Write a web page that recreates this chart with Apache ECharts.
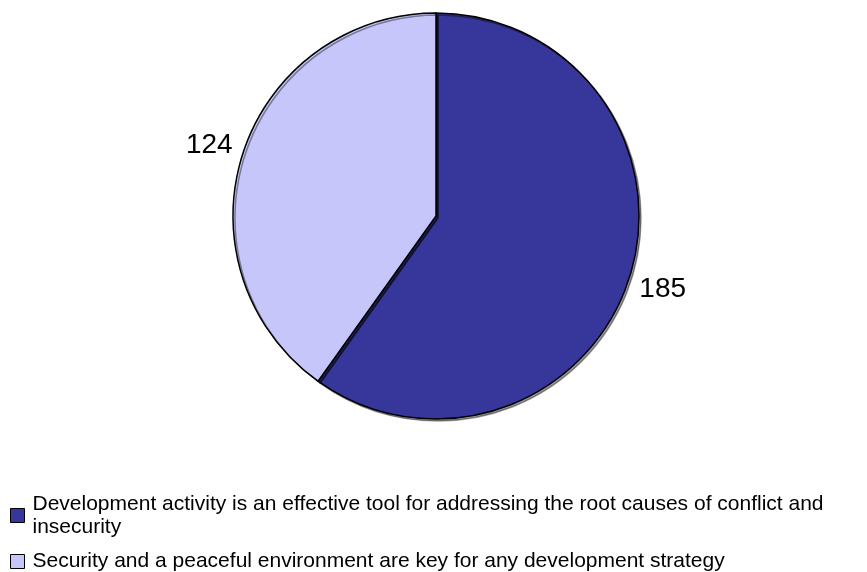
<!DOCTYPE html>
<html>
<head>
<meta charset="utf-8">
<script src="https://cdn.jsdelivr.net/npm/echarts@6/dist/echarts.min.js"></script>
<style>
  html, body { margin: 0; padding: 0; background: #fff; }
  #chart { width: 867px; height: 572px; }
</style>
</head>
<body>
<div id="chart"></div>
<script>
const categories = [
  'Development activity is an effective tool for addressing the root causes of conflict and insecurity',
  'Security and a peaceful environment are key for any development strategy'
];
const values = [185, 124];
const colors = ['#37379b', '#c6c6fa'];

// nudge the outside labels to where the original has them
const labelNudge = [[5, 11], [-5, -9]];

const chart = echarts.init(document.getElementById('chart'));

chart.setOption({
  animation: false,
  textStyle: { fontFamily: 'Liberation Sans, Arial, sans-serif' },
  legend: {
    orient: 'vertical',
    left: 5,
    top: 476,
    itemWidth: 14,
    itemHeight: 14,
    itemGap: 0,
    icon: 'rect',
    selectedMode: false,
    itemStyle: { borderColor: '#000', borderWidth: 1, shadowColor: 'transparent', shadowBlur: 0, shadowOffsetX: 0, shadowOffsetY: 0 },
    textStyle: { fontSize: 21, color: '#000', lineHeight: 23 },
    formatter: (name) => name.replace(' insecurity', '\ninsecurity'),
    data: [
      { name: categories[0], textStyle: { padding: [23, 0, 0, 3] } },
      { name: categories[1], textStyle: { padding: [0, 0, 0, 3] } }
    ]
  },
  series: [
    {
      type: 'pie',
      center: [436, 216],
      radius: 203,
      startAngle: 90,
      clockwise: true,
      silent: true,
      emphasis: { disabled: true },
      itemStyle: {
        borderColor: '#000',
        borderWidth: 1.5,
        shadowColor: 'rgba(0,0,0,0.4)',
        shadowBlur: 0,
        shadowOffsetX: 2,
        shadowOffsetY: 2
      },
      label: {
        show: true,
        position: 'outside',
        formatter: '{c}',
        fontSize: 28,
        color: '#000'
      },
      labelLine: { show: false, length: 0, length2: 0 },
      labelLayout: (params) => ({ dx: labelNudge[params.dataIndex][0], dy: labelNudge[params.dataIndex][1] }),
      data: categories.map((name, i) => ({
        name: name,
        value: values[i],
        itemStyle: { color: colors[i] }
      }))
    }
  ]
});

window.addEventListener('resize', () => {
  chart.resize();
});
</script>
</body>
</html>
